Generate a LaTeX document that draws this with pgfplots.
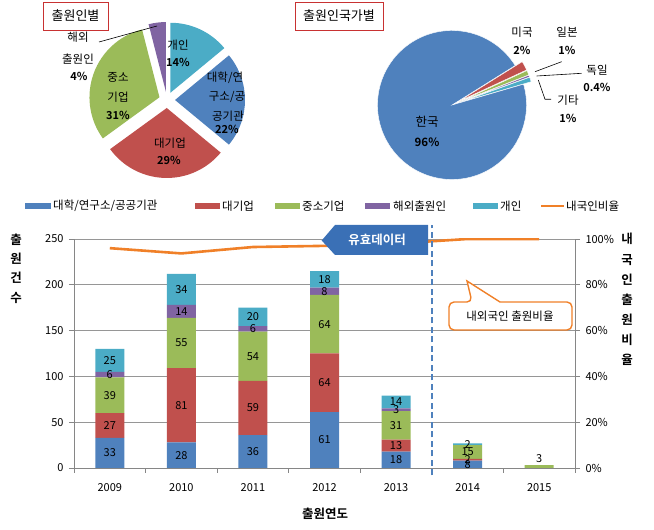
\documentclass[border=0pt]{standalone}
\usepackage{pgfplots}
\pgfplotsset{compat=1.18}
\usepackage{fontspec}
\setmainfont{Noto Sans CJK KR}[BoldFont={Noto Sans CJK KR Bold}]
\definecolor{cBlue}{RGB}{79,129,189}
\definecolor{cRed}{RGB}{192,80,77}
\definecolor{cGreen}{RGB}{155,187,89}
\definecolor{cPurple}{RGB}{128,100,162}
\definecolor{cCyan}{RGB}{75,172,198}
\definecolor{cOrange}{RGB}{240,128,40}
\definecolor{cGrid}{RGB}{150,150,150}
\definecolor{cAxis}{RGB}{134,134,134}
\definecolor{cTitle}{RGB}{200,50,50}
\definecolor{cCall}{RGB}{58,112,182}
\newcommand\fs[1]{\fontsize{#1}{#1}\selectfont}

\begin{document}
\begin{tikzpicture}[x=1pt,y=1pt]
\useasboundingbox (0,0) rectangle (654,530);

% ---------- Pie 1: 출원인별 ----------
\begin{scope}[shift={(167pt,430pt)}]
\def\s{90}
\foreach \p/\c in {14/cCyan, 22/cBlue, 29/cRed, 31/cGreen, 4/cPurple}{
  \pgfmathsetmacro\e{\s-\p*3.6}
  \pgfmathsetmacro\m{(\s+\e)/2}
  \fill[\c] (\m:8pt) -- ++(\e:70pt) arc[start angle=\e, end angle=\s, radius=70pt] -- cycle;
  \xdef\s{\e}
}
\end{scope}

% ---------- Pie 2: 출원인국가별 ----------
\begin{scope}[shift={(452pt,425pt)}]
\def\s{32}
\foreach \p/\c/\x in {2/cRed/8, 1/cGreen/8, 0.4/cPurple/8, 1/cCyan/8, 96/cBlue/0}{
  \pgfmathsetmacro\e{\s-\p*3.5857}
  \pgfmathsetmacro\m{(\s+\e)/2}
  \filldraw[fill=\c, draw=white, line width=0.4pt] (\m:\x pt) -- ++(\e:74.5pt) arc[start angle=\e, end angle=\s, radius=74.5pt] -- cycle;
  \xdef\s{\e}
}
\end{scope}

% ---------- Stacked bars (left axis) ----------
\begin{axis}[
  scale only axis, width=501pt, height=229pt,
  at={(74pt,62pt)}, anchor=south west,
  ybar stacked, bar width=29pt,
  xmin=-0.5, xmax=6.5, ymin=0, ymax=250,
  axis x line*=bottom, axis y line*=left,
  axis line style={cAxis, line width=0.8pt},
  xtick={0,...,6}, xticklabels={2009,2010,2011,2012,2013,2014,2015},
  minor xtick={-0.5,0.5,...,6.5},
  major x tick style={draw=none},
  minor x tick style={cAxis, line width=0.8pt},
  minor tick length=5pt,
  ytick={0,50,...,250},
  major y tick style={cAxis, line width=0.8pt},
  tick align=outside, major tick length=5pt,
  ymajorgrids, grid style={cGrid, line width=0.8pt},
  ticklabel style={font=\fs{11}},
  /pgf/number format/assume math mode=true,
  xticklabel style={yshift=-7pt},
  yticklabel style={xshift=-2pt},
]
\addplot[fill=cBlue, draw=none] coordinates {(0,33) (1,28) (2,36) (3,61) (4,18) (5,8) (6,0)};
\addplot[fill=cRed, draw=none] coordinates {(0,27) (1,81) (2,59) (3,64) (4,13) (5,2) (6,0)};
\addplot[fill=cGreen, draw=none] coordinates {(0,39) (1,55) (2,54) (3,64) (4,31) (5,15) (6,3)};
\addplot[fill=cPurple, draw=none] coordinates {(0,6) (1,14) (2,6) (3,8) (4,3) (5,0) (6,0)};
\addplot[fill=cCyan, draw=none] coordinates {(0,25) (1,34) (2,20) (3,18) (4,14) (5,2) (6,0)};
\end{axis}

% ---------- Ratio line (right axis) ----------
\begin{axis}[
  scale only axis, width=501pt, height=229pt,
  at={(74pt,62pt)}, anchor=south west,
  xmin=-0.5, xmax=6.5, ymin=0, ymax=100,
  axis y line*=right, axis x line=none,
  axis line style={cAxis, line width=0.8pt},
  ytick={0,20,...,100},
  yticklabel={\pgfmathprintnumber{\tick}\%},
  major y tick style={cAxis, line width=0.8pt},
  tick align=outside, major tick length=5pt,
  ticklabel style={font=\fs{11}},
  /pgf/number format/assume math mode=true,
  yticklabel style={xshift=2pt},
]
\addplot[cOrange, line width=2.6pt, mark=none] coordinates {(0,96) (1,93.7) (2,96.5) (3,97) (4,98) (5,100) (6,100)};
\end{axis}

% ---------- Labels + divider (hidden axis) ----------
\begin{axis}[
  scale only axis, width=501pt, height=229pt,
  at={(74pt,62pt)}, anchor=south west,
  xmin=-0.5, xmax=6.5, ymin=0, ymax=250,
  hide axis, clip=false,
]
\addplot[cBlue, line width=1.8pt, dash pattern=on 6pt off 3.5pt] coordinates {(4.5,-8) (4.5,265)};
\addplot[draw=none, mark=none, point meta=explicit symbolic, nodes near coords,
  every node near coord/.append style={anchor=center, text=black, font=\fs{11}, inner sep=0pt}]
  coordinates {
  (0,16.5)[33] (0,46.5)[27] (0,79.5)[39] (0,102)[6] (0,117.5)[25]
  (1,14)[28] (1,68.5)[81] (1,136.5)[55] (1,171)[14] (1,195)[34]
  (2,18)[36] (2,65.5)[59] (2,122)[54] (2,152)[6] (2,165)[20]
  (3,30.5)[61] (3,93)[64] (3,157)[64] (3,193)[8] (3,206)[18]
  (4,9)[18] (4,24.5)[13] (4,46)[31] (4,64)[3] (4,72)[14]
  (5,4)[8] (5,9)[2] (5,17.5)[15] (5,26)[2]
  (6,10.8)[3]
  };
\end{axis}

% ---------- Overlay texts (pixel coords, y downward) ----------
\begin{scope}[shift={(0,530)}, y=-1pt]
  % titles
  \node[draw=cTitle, line width=0.9pt, minimum width=65pt, minimum height=28pt, inner sep=0pt, font=\fs{13}] at (75.5,16) {출원인별};
  \node[draw=cTitle, line width=0.9pt, minimum width=88pt, minimum height=28pt, inner sep=0pt, font=\fs{13}] at (339,16) {출원인국가별};
  % pie 1 labels
  \begin{scope}[every node/.style={font=\fs{11.5}, inner sep=0pt}]
  \node at (178,45) {개인}; \node[font=\bfseries\fs{11}] at (178,62) {14\%};
  \node at (225,78) {대학/연}; \node at (227,97) {구소/공}; \node at (228,116) {공기관}; \node[font=\bfseries\fs{11}] at (227,129) {22\%};
  \node at (170,143) {대기업}; \node[font=\bfseries\fs{11}] at (169,160) {29\%};
  \node at (118,77) {중소}; \node at (118,97) {기업}; \node[font=\bfseries\fs{11}] at (118,115) {31\%};
  \node at (78,37) {해외}; \node at (78,59) {출원인}; \node[font=\bfseries\fs{11}] at (79,76) {4\%};
  % pie 2 labels
  \node at (522,32) {미국}; \node[font=\bfseries\fs{11}] at (522,50) {2\%};
  \node at (567,32) {일본}; \node[font=\bfseries\fs{11}] at (567,50) {1\%};
  \node at (597,70) {독일}; \node[font=\bfseries\fs{11}] at (597,87) {0.4\%};
  \node at (568,100) {기타}; \node[font=\bfseries\fs{11}] at (568,118) {1\%};
  \node[font=\fs{12.5}] at (427,122) {한국}; \node[font=\bfseries\fs{11.5}] at (427,142) {96\%};
  \end{scope}
  \draw[black, line width=0.6pt] (99,42) -- (157,26);
  \draw[black, line width=0.6pt] (561.7,61.7) -- (535,71.7);
  \draw[black, line width=0.6pt] (581.7,73.3) -- (536.7,76);
  \draw[black, line width=0.6pt] (551,99.3) -- (545,99.3) -- (538.3,80);

  % legend
  \begin{scope}[every node/.style={font=\fs{11.5}, inner sep=0pt, anchor=west}]
  \fill[cBlue] (25,203) rectangle (51,209); \node at (53,206) {대학/연구소/공공기관};
  \fill[cRed] (195,203) rectangle (220,209); \node at (222,206) {대기업};
  \fill[cGreen] (275,203) rectangle (300,209); \node at (302,206) {중소기업};
  \fill[cPurple] (365,203) rectangle (390,209); \node at (393,206) {해외출원인};
  \fill[cCyan] (473,203) rectangle (498,209); \node at (500,206) {개인};
  \draw[cOrange, line width=2.6pt] (541,206) -- (564,206); \node at (566,206) {내국인비율};
  \end{scope}

  % callout 1
  \fill[cCall] (321.7,240.5) -- (335,225) -- (428,225) -- (428,255) -- (335,255) -- cycle;
  \node[text=white, font=\bfseries\fs{12.5}] at (377,240) {유효데이터};
  % callout 2
  \draw[cOrange, line width=1.4pt, fill=white] (472,302) [sharp corners] -- (467,281) -- (500,302) [rounded corners=5pt] -- (572,302) -- (572,330) -- (449,330) -- (449,302) -- cycle;
  \node[font=\fs{11.5}] at (510,316) {내외국인 출원비율};

  % axis titles
  \node[align=center, font=\bfseries\fontsize{12.5}{19.3}\selectfont] at (16,268.5) {출\\원\\건\\수};
  \node[align=center, font=\bfseries\fontsize{12.5}{20.1}\selectfont] at (627,299.5) {내\\국\\인\\출\\원\\비\\율};
  \node[font=\bfseries\fs{12.5}] at (325,514) {출원연도};
\end{scope}
\end{tikzpicture}
\end{document}
